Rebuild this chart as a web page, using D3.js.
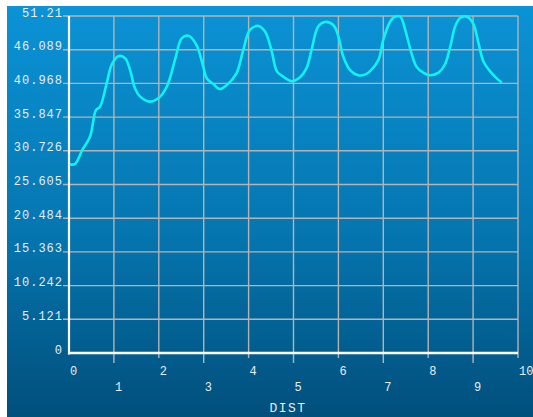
<!DOCTYPE html>
<html>
<head>
<meta charset="utf-8">
<script src="https://cdn.jsdelivr.net/npm/d3@7"></script>
<style>
html,body{margin:0;padding:0;background:#fff;}
svg{display:block;}
text{font-family:"Liberation Mono","DejaVu Sans Mono",monospace;fill:#e6eef2;}
</style>
</head>
<body>
<script>
const dist = [0.02,0.13,0.3,0.47,0.6,0.69,0.84,0.95,1.1,1.25,1.36,1.47,1.58,1.8,1.99,2.18,2.36,2.51,2.66,2.84,2.99,3.07,3.21,3.36,3.51,3.73,3.88,4.03,4.22,4.37,4.51,4.63,4.77,4.96,5.11,5.29,5.4,5.55,5.7,5.89,6.0,6.11,6.26,6.44,6.59,6.7,6.89,7.0,7.15,7.26,7.38,7.48,7.63,7.74,7.89,8.04,8.23,8.37,8.49,8.6,8.71,8.86,9.0,9.12,9.23,9.38,9.53,9.64];
const values = [28.7,28.7,30.9,32.9,36.9,37.4,41.0,43.8,45.1,44.8,43.0,40.2,39.0,38.2,38.7,40.5,44.5,47.8,48.2,46.8,43.5,41.7,40.9,40.1,40.7,42.5,46.0,49.1,49.7,48.8,46.0,42.8,42.0,41.3,41.7,43.3,46.0,49.6,50.3,49.8,48.1,45.0,43.0,42.2,42.3,42.8,44.5,47.6,50.3,51.1,51.1,49.3,45.5,43.5,42.6,42.2,42.6,43.8,46.5,49.6,50.9,51.1,50.1,47.1,44.3,42.8,41.7,41.1];
const yTicks = [0,5.121,10.242,15.363,20.484,25.605,30.726,35.847,40.968,46.089,51.21];
const yTickLabels = ["0","5.121","10.242","15.363","20.484","25.605","30.726","35.847","40.968","46.089","51.21"];
const xTicks = [0,1,2,3,4,5,6,7,8,9,10];
const xTitle = "DIST";

const W = 533, H = 417;
const svg = d3.select("body").append("svg").attr("width", W).attr("height", H);

const defs = svg.append("defs");
const grad = defs.append("linearGradient").attr("id","bg").attr("x1",0).attr("y1",0).attr("x2",0).attr("y2",1);
grad.append("stop").attr("offset","0%").attr("stop-color","#0b93d6");
grad.append("stop").attr("offset","55%").attr("stop-color","#0576b0");
grad.append("stop").attr("offset","100%").attr("stop-color","#014f7b");

svg.append("rect").attr("x",7).attr("y",6).attr("width",W-7).attr("height",H-6).attr("fill","url(#bg)");

const x = d3.scaleLinear().domain([0,10]).range([69,518]);
const y = d3.scaleLinear().domain([0,51.21]).range([353,16]);

const grid = svg.append("g").attr("stroke","#b4b4b4").attr("stroke-width",1.4);
// horizontal grid + left ticks
yTicks.forEach(t => {
  if (t === 0) return;
  grid.append("line").attr("x1",x(0)-6).attr("x2",x(10)).attr("y1",y(t)).attr("y2",y(t));
});
// vertical grid + bottom ticks
xTicks.forEach((t,i) => {
  if (t === 0) return;
  const len = (t % 2 === 1) ? 10 : 5;
  grid.append("line").attr("x1",x(t)).attr("x2",x(t)).attr("y1",y(51.21)).attr("y2",y(0)+len);
});

// axes (white)
svg.append("line").attr("x1",x(0)).attr("x2",x(0)).attr("y1",y(51.21)).attr("y2",y(0)+1.5)
  .attr("stroke","#ffffff").attr("stroke-width",2.2);
svg.append("line").attr("x1",x(0)-1).attr("x2",x(10)).attr("y1",y(0)).attr("y2",y(0))
  .attr("stroke","#ffffff").attr("stroke-width",2.5);

// y labels
svg.append("g").selectAll("text").data(yTicks).join("text")
  .attr("x",63).attr("y",d => y(d)+0.5)
  .attr("text-anchor","end")
  .attr("font-size","12px").attr("letter-spacing","1px")
  .text((d,i) => yTickLabels[i]);

// x labels
svg.append("g").selectAll("text").data(xTicks).join("text")
  .attr("x",d => x(d)+1)
  .attr("y",d => d % 2 === 0 ? 375 : 391)
  .attr("font-size","12px")
  .text(d => d);

svg.append("text").attr("x",288).attr("y",412).attr("text-anchor","middle")
  .attr("font-size","13px").attr("letter-spacing","1.5px").text(xTitle);

// curve
const line = d3.line().x((d,i) => x(dist[i])).y(d => y(d)).curve(d3.curveCatmullRom.alpha(0.5));
svg.append("path").datum(values).attr("d",line)
  .attr("fill","none").attr("stroke","#12f2f0").attr("stroke-width",2.6).attr("stroke-linejoin","round");
</script>
</body>
</html>
